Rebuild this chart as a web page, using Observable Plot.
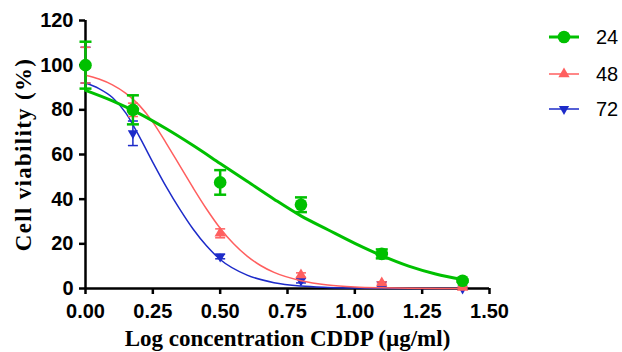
<!DOCTYPE html>
<html><head><meta charset="utf-8">
<script src="https://cdn.jsdelivr.net/npm/d3@7"></script>
<script src="https://cdn.jsdelivr.net/npm/@observablehq/plot@0.6"></script>
<style>
body{margin:0;background:#fff;}
#wrap{position:relative;width:622px;height:352px;}
#wrap svg.plot{font-family:"Liberation Sans",Arial,sans-serif;}
#wrap [aria-label="x-axis tick label"], #wrap [aria-label="y-axis tick label"]{font-weight:bold;}
#wrap .ytitle text{letter-spacing:1.3px;}
#legend{position:absolute;left:549px;top:0;font-family:"Liberation Sans",Arial,sans-serif;font-size:20px;}
.row{position:absolute;left:0;height:20px;display:flex;align-items:center;white-space:nowrap;}
.row span{margin-left:17px;}
</style></head>
<body><div id="wrap"></div>
<script>
// Data
const doses = [0, 0.176, 0.5, 0.8, 1.1, 1.4];
const mean24 = [100, 80, 47.5, 37.5, 15.5, 3.5];
const err24  = [10.5, 6.5, 5.5, 3.3, 2, 0.5];
const mean48 = [100, 80, 24.7, 6, 2.5, 0.5];
const err48  = [8, 3, 2, 1, 0.5, 0.3];
const mean72 = [100, 69.5, 14.3, 3.5, 2, 0];
const err72  = [8, 5.5, 1, 1, 1, 0];

// Fitted curves
const fitX24 = [0,0.1,0.2,0.3,0.4,0.5,0.6,0.7,0.8,0.9,1.0,1.1,1.2,1.3,1.4];
const fit24  = [88.7,84,78.3,71.5,64,56,48,40,32.5,26.3,20.2,14.7,10,6.5,4];
const fitX48 = [0,0.05,0.1,0.15,0.2,0.25,0.3,0.35,0.4,0.45,0.5,0.55,0.6,0.65,0.7,0.8,0.9,1.0,1.1,1.2,1.4];
const fit48  = [95.5,93.8,91.2,87.4,82,74.5,65,55,45,35.5,27,20,14.5,10.3,7.2,3.5,1.6,0.7,0.3,0.1,0];
const fitX72 = [0,0.05,0.1,0.15,0.2,0.25,0.3,0.35,0.4,0.45,0.5,0.6,0.7,0.8,0.9,1.0,1.2,1.4];
const fit72  = [92,89.5,85.5,78.5,68,56.5,45.5,35.5,26.5,19,13,6,2.6,1.1,0.5,0.2,0,0];

const xTicks = [0,0.25,0.5,0.75,1.0,1.25,1.5];
const yTicks = [0,20,40,60,80,100,120];
const seriesNames = ["24","48","72"];
const colors = ["#00c000","#ff5f5f","#1d2bc9"];
const xTitle = "Log concentration CDDP (\u00b5g/ml)";
const yTitle = "Cell viability (%)";

const pts = (m, e) => doses.map((x, i) => ({x, y: m[i], e: e[i]}));
const fit = (xs, ys) => xs.map((x, i) => ({x, y: ys[i]}));

const cap = {draw(ctx, size){ const h = Math.sqrt(size/Math.PI); ctx.moveTo(-h,0); ctx.lineTo(h,0); }};

function seriesMarks(m, e, xs, ys, color, lw, elw, capR, sym, r, rot){
  const d = pts(m, e);
  return [
    Plot.line(fit(xs, ys), {x:"x", y:"y", stroke: color, strokeWidth: lw, curve:"monotone-x"}),
    Plot.ruleX(d, {x:"x", y1: a=>a.y-a.e, y2: a=>a.y+a.e, stroke: color, strokeWidth: elw}),
    Plot.dot(d, {x:"x", y: a=>a.y+a.e, symbol: cap, r: capR, stroke: color, strokeWidth: elw, fill:"none"}),
    Plot.dot(d, {x:"x", y: a=>a.y-a.e, symbol: cap, r: capR, stroke: color, strokeWidth: elw, fill:"none"}),
    Plot.dot(d, {x:"x", y:"y", symbol: sym, r, fill: color, stroke: "none", rotate: rot})
  ];
}

const serif = "'Liberation Serif','Times New Roman',serif";
const chart = Plot.plot({
  width: 622, height: 352,
  marginLeft: 85, marginRight: 133, marginTop: 20, marginBottom: 64,
  style: {fontSize: "20px", color: "#000", background: "#fff", overflow: "visible"},
  x: {domain: [0, 1.5]},
  y: {domain: [0, 120]},
  marks: [
    Plot.axisX({ticks: xTicks, tickFormat: d3.format(".2f"), tickSize: 6, tickPadding: 9, strokeWidth: 2.5, label: null}),
    Plot.axisY({ticks: yTicks, tickSize: 6, tickPadding: 6, strokeWidth: 2.5, label: null}),
    Plot.ruleX([0], {stroke:"#000", strokeWidth: 2.5}),
    Plot.ruleY([0], {stroke:"#000", strokeWidth: 2.5}),
    ...seriesMarks(mean72, err72, fitX72, fit72, colors[2], 1.5, 1.5, 5, "triangle", 3.8, 180),
    ...seriesMarks(mean48, err48, fitX48, fit48, colors[1], 1.5, 1.5, 5, "triangle", 4.2, 0),
    ...seriesMarks(mean24, err24, fitX24, fit24, colors[0], 3, 2.5, 6, "circle", 6.3, 0),
    Plot.text([xTitle], {frameAnchor:"bottom", dy: 57, fontSize: 23, fontFamily: serif, fontWeight: "bold"}),
    Plot.text([yTitle], {frameAnchor:"left", textAnchor: "middle", dx: -62, rotate: -90, fontSize: 23, fontFamily: serif, fontWeight: "bold", className: "ytitle"})
  ]
});
chart.classList.add("plot");
const wrap = document.getElementById("wrap");
wrap.appendChild(chart);

// Legend
const legend = document.createElement("div");
legend.id = "legend";
const rowsY = [27, 64, 99];
const legSyms = [d3.symbolCircle, d3.symbolTriangle, d3.symbolTriangle];
const legSizes = [Math.PI*6.3*6.3, Math.PI*4.2*4.2, Math.PI*3.8*3.8];
const legLW = [3, 1.5, 1.5];
const legRot = [0, 0, 180];
seriesNames.forEach((name, i) => {
  const row = document.createElement("div");
  row.className = "row";
  row.style.top = rowsY[i] + "px";
  const svg = d3.create("svg").attr("width", 30).attr("height", 20);
  svg.append("line").attr("x1", 0).attr("x2", 30).attr("y1", 10).attr("y2", 10)
     .attr("stroke", colors[i]).attr("stroke-width", legLW[i]);
  svg.append("path").attr("d", d3.symbol(legSyms[i], legSizes[i])())
     .attr("transform", `translate(15,10) rotate(${legRot[i]})`).attr("fill", colors[i]);
  row.appendChild(svg.node());
  const s = document.createElement("span");
  s.textContent = name;
  row.appendChild(s);
  legend.appendChild(row);
});
wrap.appendChild(legend);
</script></body></html>
